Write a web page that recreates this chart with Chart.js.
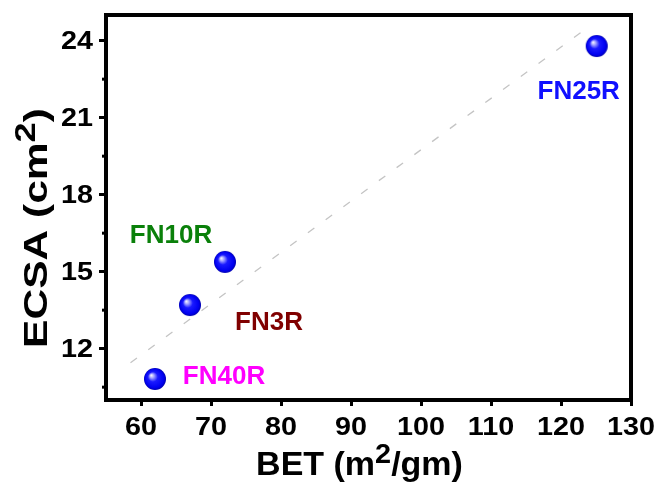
<!DOCTYPE html>
<html>
<head>
<meta charset="utf-8">
<script src="https://cdn.jsdelivr.net/npm/chart.js@4.4.0/dist/chart.umd.min.js"></script>
<style>
  html, body { margin: 0; padding: 0; background: #fff; }
  #wrap { width: 661px; height: 482px; }
</style>
</head>
<body>
<div id="wrap"><canvas id="ecsaChart" width="661" height="482"></canvas></div>
<script>
// Sample names and measured values
const samples = ['FN40R', 'FN3R', 'FN10R', 'FN25R'];
const betValues = [62.0, 67.0, 72.0, 125.1];
const ecsaValues = [10.82, 13.70, 15.38, 23.79];
const labelColors = ['#ff00ff', '#800000', '#0a800a', '#1010ff'];

// Linear trend line (two end points)
const fitBet = [58.5, 123.5];
const fitEcsa = [11.45, 24.45];

// Tick values
const xTicks = [60, 70, 80, 90, 100, 110, 120, 130];
const yTicks = [12, 15, 18, 21, 24];
const yMinorTicks = [10.5, 13.5, 16.5, 19.5, 22.5];

const FONT = "'Liberation Sans', Arial, sans-serif";

// Shiny blue sphere used as the marker
function makeSphere(r) {
  const c = document.createElement('canvas');
  c.width = c.height = r * 2 + 2;
  const g = c.getContext('2d');
  const cx = r + 1, cy = r + 1;
  const grad = g.createRadialGradient(cx - r * 0.35, cy - r * 0.35, 0, cx, cy, r);
  grad.addColorStop(0, '#ffffff');
  grad.addColorStop(0.2, '#a0a0ff');
  grad.addColorStop(0.45, '#1a1aff');
  grad.addColorStop(0.85, '#0000f0');
  grad.addColorStop(1, '#0000b0');
  g.fillStyle = grad;
  g.beginPath();
  g.arc(cx, cy, r, 0, Math.PI * 2);
  g.fill();
  return c;
}

// Offsets of each sample name from its marker (pixels)
const labelOffsets = [[69, -2], [79, 18], [-54, -26], [-18, 46]];

// text in the original is a bit wider than Arial, so stretch it sideways
function wideText(ctx, text, x, y, sx, align) {
  const w = ctx.measureText(text).width * sx;
  let left = x;
  if (align === 'center') left = x - w / 2;
  if (align === 'right') left = x - w;
  ctx.save();
  ctx.translate(left, y);
  ctx.scale(sx, 1);
  ctx.textAlign = 'left';
  ctx.fillText(text, 0, 0);
  ctx.restore();
}

const framePlugin = {
  id: 'frame',
  afterDraw(chart) {
    const ctx = chart.ctx;
    const a = chart.chartArea;
    const xs = chart.scales.x;
    const ys = chart.scales.y;
    ctx.save();
    ctx.strokeStyle = '#000';
    ctx.lineWidth = 4;
    ctx.lineCap = 'square';
    ctx.beginPath();
    ctx.moveTo(a.left, a.top);
    ctx.lineTo(a.right, a.top);
    ctx.lineTo(a.right, a.bottom);
    ctx.stroke();

    // minor ticks on the y axis
    ctx.lineWidth = 3;
    ctx.lineCap = 'butt';
    yMinorTicks.forEach(v => {
      const py = ys.getPixelForValue(v);
      ctx.beginPath();
      ctx.moveTo(a.left, py);
      ctx.lineTo(a.left - 4, py);
      ctx.stroke();
    });

    // tick labels
    ctx.fillStyle = '#000';
    ctx.font = 'bold 25px ' + FONT;
    ctx.textBaseline = 'middle';
    xTicks.forEach(v => wideText(ctx, String(v), xs.getPixelForValue(v), 428, 1.15, 'center'));
    yTicks.forEach(v => wideText(ctx, String(v), 93, ys.getPixelForValue(v) + 1, 1.15, 'right'));

    // sample labels
    const meta = chart.getDatasetMeta(0);
    ctx.font = 'bold 26px ' + FONT;
    ctx.textAlign = 'center';
    meta.data.forEach((pt, i) => {
      ctx.fillStyle = labelColors[i];
      ctx.fillText(samples[i], pt.x + labelOffsets[i][0], pt.y + labelOffsets[i][1]);
    });

    // axis titles with superscripts
    ctx.fillStyle = '#000';
    ctx.textBaseline = 'alphabetic';
    drawTitle(ctx, ['BET (m', '2', '/gm)'], (a.left + a.right) / 2 - 9, 475, 0, 1.03, 33);
    drawTitle(ctx, ['ECSA (cm', '2', ')'], 47, 228, -Math.PI / 2, 1.25, 34);
    ctx.restore();
  }
};

function drawTitle(ctx, parts, cx, baseY, angle, sx, size) {
  const big = 'bold ' + size + 'px ' + FONT;
  const small = 'bold ' + Math.round(size * 0.85) + 'px ' + FONT;
  ctx.font = big;
  const w0 = ctx.measureText(parts[0]).width;
  const w2 = ctx.measureText(parts[2]).width;
  ctx.font = small;
  const w1 = ctx.measureText(parts[1]).width;
  const total = w0 + w1 + w2;
  ctx.save();
  ctx.translate(cx, baseY);
  ctx.rotate(angle);
  ctx.scale(sx, 1);
  ctx.textAlign = 'left';
  let x = -total / 2;
  ctx.font = big;
  ctx.fillText(parts[0], x, 0);
  x += w0;
  ctx.font = small;
  ctx.fillText(parts[1], x, -size * 0.36);
  x += w1;
  ctx.font = big;
  ctx.fillText(parts[2], x, 0);
  ctx.restore();
}

const ctx = document.getElementById('ecsaChart').getContext('2d');

new Chart(ctx, {
  type: 'scatter',
  data: {
    datasets: [
      {
        label: 'ECSA',
        data: betValues.map((v, i) => ({ x: v, y: ecsaValues[i] })),
        pointStyle: makeSphere(11),
        pointRadius: 11,
        showLine: false
      },
      {
        label: 'fit',
        data: fitBet.map((v, i) => ({ x: v, y: fitEcsa[i] })),
        showLine: true,
        pointRadius: 0,
        borderColor: '#c4c4c4',
        borderWidth: 1.3,
        borderDash: [8, 14]
      }
    ]
  },
  options: {
    responsive: false,
    animation: false,
    events: [],
    layout: { padding: { top: 15, right: 30, left: 0, bottom: 0 } },
    plugins: { legend: { display: false }, tooltip: { enabled: false } },
    scales: {
      x: {
        type: 'linear',
        min: 55,
        max: 130,
        afterBuildTicks: s => { s.ticks = xTicks.map(v => ({ value: v })); },
        afterFit: s => { s.height = 82; },
        grid: { display: true, drawOnChartArea: false, drawTicks: true, tickLength: 6, tickWidth: 3, color: '#000' },
        border: { display: true, width: 4, color: '#000' },
        ticks: { display: false }
      },
      y: {
        type: 'linear',
        min: 10,
        max: 25,
        afterBuildTicks: s => { s.ticks = yTicks.map(v => ({ value: v })); },
        afterFit: s => { s.width = 106; },
        grid: { display: true, drawOnChartArea: false, drawTicks: true, tickLength: 7, tickWidth: 3, color: '#000' },
        border: { display: true, width: 4, color: '#000' },
        ticks: { display: false }
      }
    }
  },
  plugins: [framePlugin]
});
</script>
</body>
</html>
